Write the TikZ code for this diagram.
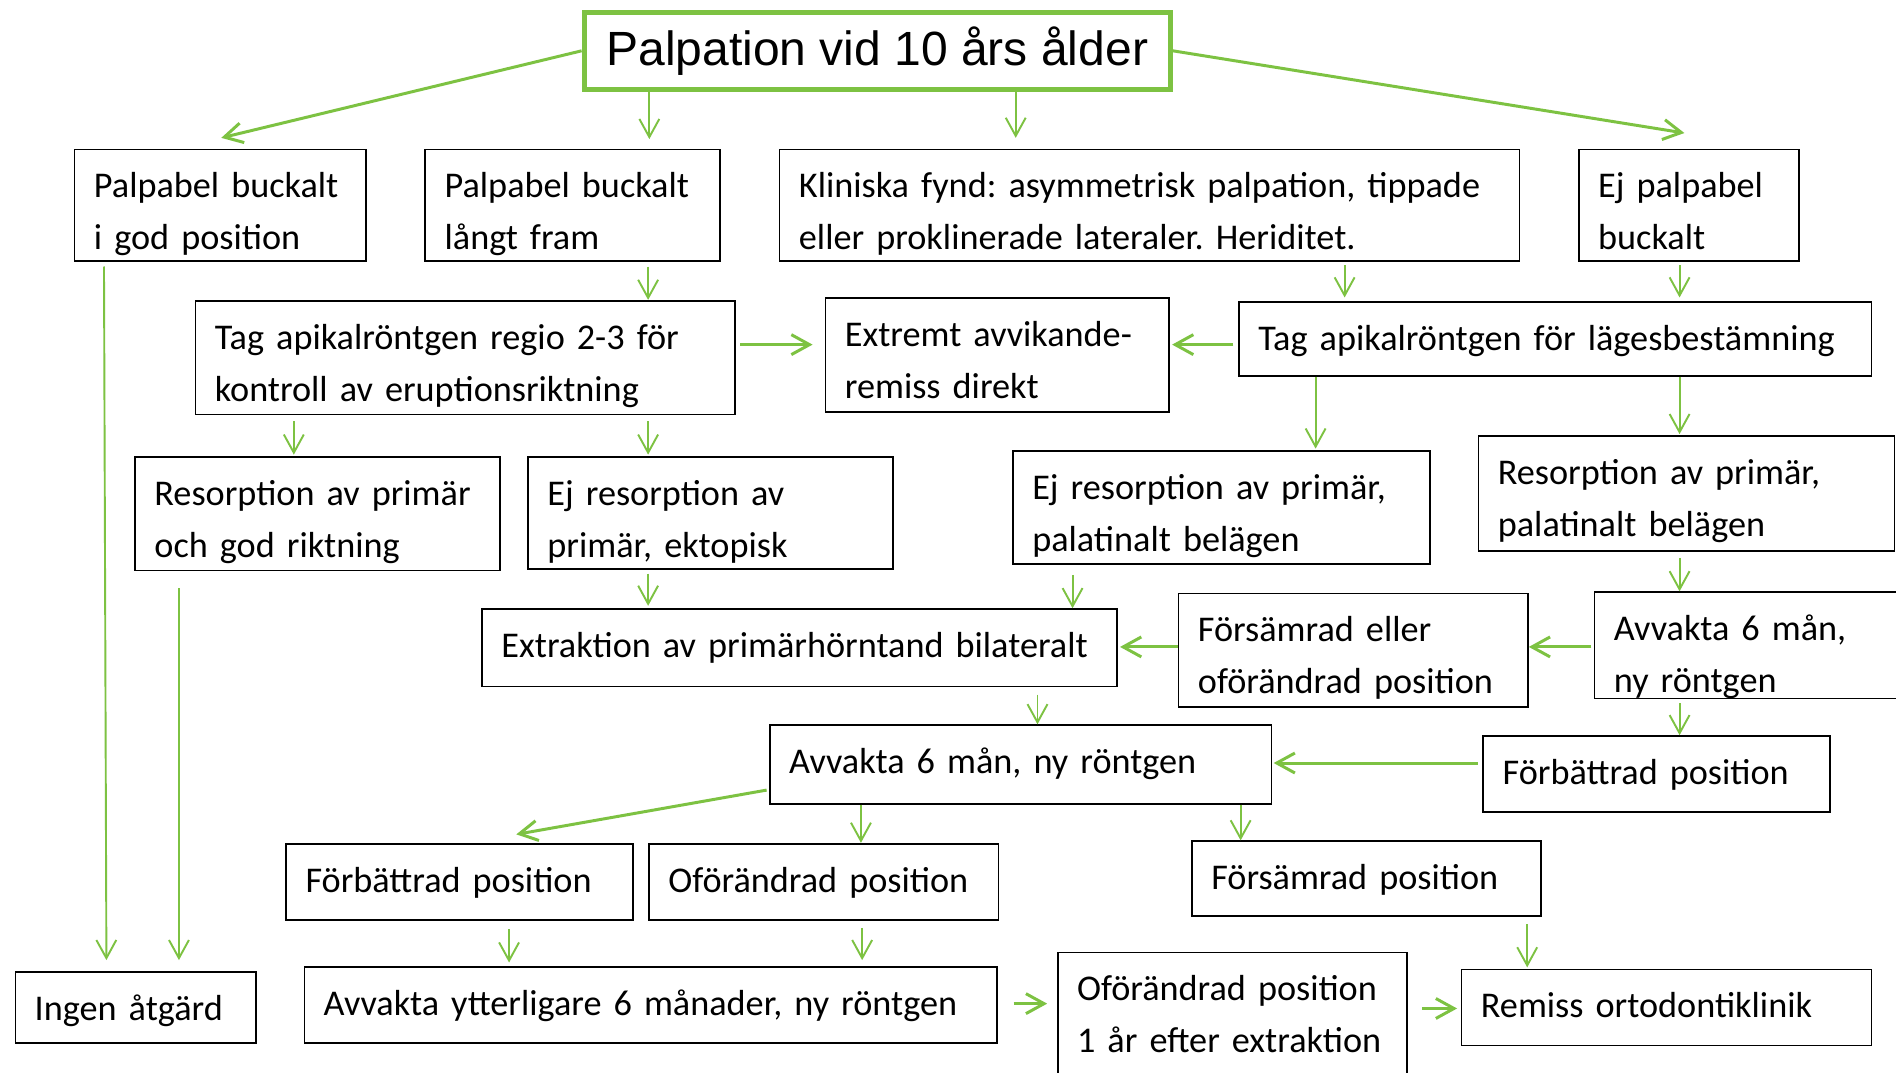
\documentclass[tikz,border=0pt]{standalone}
\usepackage{fontspec}
\setmainfont{Carlito}
\newfontfamily\titlefont{Liberation Sans}
\usetikzlibrary{arrows.meta,calc}
\definecolor{grn}{RGB}{125,194,66}
\frenchspacing
\begin{document}
\begin{tikzpicture}[x=0.02cm,y=-0.02cm,
  box/.style={draw=black, line width=0.8pt, inner xsep=0.32cm, inner ysep=0pt,
    text height=0.80cm, align=left, anchor=north west,
    font=\fontsize{17.05pt}{24.5pt}\selectfont\frenchspacing},
  titlebox/.style={draw=grn, line width=2.3pt, inner xsep=0pt, inner ysep=0pt,
    minimum width=9.70cm, text height=0.88cm, text depth=0.40cm, align=center,
    anchor=north west, font=\titlefont\fontsize{22.6pt}{27pt}\selectfont},
  arr/.style={draw=grn, line width=0.9pt, -{Straight Barb[length=0.3cm,width=0.33cm]}},
  arrb/.style={arr, line width=1.4pt}]
\fill[white] (0,0) rectangle (1568,887);
\useasboundingbox (0,0) rectangle (1568,887);

% nodes
\node[titlebox] (title) at (481,8) {Palpation vid 10 års ålder};

\node[box, text width=4.18cm, text depth=1.04cm] (b1) at (61,123) {\mbox{Palpabel buckalt}\\\mbox{i god position}};
\node[box, text width=4.24cm, text depth=1.04cm] (b2) at (351,123) {\mbox{Palpabel buckalt}\\\mbox{långt fram}};
\node[box, text width=11.60cm, text depth=1.04cm] (b3) at (644,123) {\mbox{Kliniska fynd: asymmetrisk palpation, tippade}\\\mbox{eller proklinerade lateraler. Heriditet.}};
\node[box, text width=3.00cm, text depth=1.04cm] (b4) at (1305,123) {\mbox{Ej palpabel}\\\mbox{buckalt}};

\node[box, text width=8.28cm, text depth=1.08cm] (c1) at (161,248) {\mbox{Tag apikalröntgen regio 2-3 för}\\\mbox{kontroll av eruptionsriktning}};
\node[box, text width=5.04cm, text depth=1.08cm] (c2) at (682,246) {\mbox{Extremt avvikande-}\\\mbox{remiss direkt}};
\node[box, text width=9.82cm, text depth=0.42cm] (c3) at (1024,249) {\mbox{Tag apikalröntgen för lägesbestämning}};

\node[box, text width=5.40cm, text depth=1.08cm] (d1) at (111,377) {\mbox{Resorption av primär}\\\mbox{och god riktning}};
\node[box, text width=5.40cm, text depth=1.06cm] (d2) at (436,377) {\mbox{Ej resorption av}\\\mbox{primär, ektopisk}};
\node[box, text width=6.26cm, text depth=1.08cm] (d3) at (837,372) {\mbox{Ej resorption av primär,}\\\mbox{palatinalt belägen}};
\node[box, text width=6.24cm, text depth=1.10cm] (d4) at (1222,360) {\mbox{Resorption av primär,}\\\mbox{palatinalt belägen}};

\node[box, text width=9.86cm, text depth=0.48cm] (e1) at (398,503) {\mbox{Extraktion av primärhörntand bilateralt}};
\node[box, text width=5.14cm, text depth=1.08cm] (e2) at (974,490) {\mbox{Försämrad eller}\\\mbox{oförändrad position}};
\node[box, text width=5.36cm, text depth=0.96cm] (e3) at (1318,489) {\mbox{Avvakta 6 mån,}\\\mbox{ny röntgen}};

\node[box, text width=7.66cm, text depth=0.50cm] (f1) at (636,599) {\mbox{Avvakta 6 mån, ny röntgen}};
\node[box, text width=5.10cm, text depth=0.46cm] (f2) at (1226,608) {\mbox{Förbättrad position}};

\node[box, text width=5.10cm, text depth=0.46cm] (g1) at (236,697) {\mbox{Förbättrad position}};
\node[box, text width=5.14cm, text depth=0.46cm] (g2) at (536,697) {\mbox{Oförändrad position}};
\node[box, text width=5.14cm, text depth=0.44cm] (g3) at (985,695) {\mbox{Försämrad position}};

\node[box, text width=3.34cm, text depth=0.38cm] (h0) at (12,803) {\mbox{Ingen åtgärd}};
\node[box, text width=10.82cm, text depth=0.46cm] (h1) at (251,799) {\mbox{Avvakta ytterligare 6 månader, ny röntgen}};
\node[box, text width=5.14cm, text depth=1.30cm] (h2) at (874,787) {\mbox{Oförändrad position}\\\mbox{1 år efter extraktion}};
\node[box, text width=6.14cm, text depth=0.46cm] (h3) at (1208,801) {\mbox{Remiss ortodontiklinik}};

% connectors
\draw[arrb] (title.west) -- ($(b1.north west)+(122,-9)$);
\draw[arr] ($(title.south west)+(56,0)$) coordinate (s) -- ($(s |- b2.north)+(0,-8)$);
\draw[arr] ($(title.south west)+(359,0)$) coordinate (s) -- ($(s |- b3.north)+(0,-9)$);
\draw[arrb] (title.east) -- ($(b4.north west)+(88,-13)$);

\draw[arr] ($(b1.south west)+(25,4)$) -- ($(h0.north west)+(76,-9)$);
\draw[arr] ($(d1.south west)+(37,14)$) coordinate (s) -- ($(s |- h0.north)+(0,-9)$);

\draw[arr] ($(b2.south west)+(185,4)$) coordinate (s) -- (s |- c1.north);
\draw[arr] ($(b3.south west)+(468,3)$) coordinate (s) -- ($(s |- c3.north)+(0,-3)$);
\draw[arr] ($(b4.south west)+(84,3)$) coordinate (s) -- ($(s |- c3.north)+(0,-3)$);

\draw[arrb] ($(c1.north east)+(4,37)$) coordinate (s) -- ($(s -| c2.west)+(-10,0)$);
\draw[arrb] ($(c3.north west)+(-4,36)$) coordinate (s) -- ($(s -| c2.east)+(2,0)$);

\draw[arr] ($(c1.south west)+(82,5)$) coordinate (s) -- ($(s |- d1.north)+(0,-1)$);
\draw[arr] ($(c1.south west)+(375,5)$) coordinate (s) -- ($(s |- d2.north)+(0,-1)$);
\draw[arr] ($(c3.south west)+(64,0)$) coordinate (s) -- ($(s |- d3.north)+(0,-1)$);
\draw[arr] ($(c3.south west)+(365,0)$) coordinate (s) -- ($(s |- d4.north)+(0,-1)$);

\draw[arr] ($(d2.south west)+(100,3)$) coordinate (s) -- ($(s |- e1.north)+(0,-2)$);
\draw[arr] ($(d3.south west)+(50,8)$) coordinate (s) -- (s |- e1.north);
\draw[arr] ($(d4.south west)+(167,5)$) coordinate (s) -- (s |- e3.north);

\draw[arrb] ($(e2.north west)+(0,45)$) coordinate (s) -- ($(s -| e1.east)+(2,0)$);
\draw[arrb] ($(e3.north west)+(-2,46)$) coordinate (s) -- (s -| e2.east);

\draw[arr] ($(e1.south west)+(460,6)$) coordinate (s) -- (s |- f1.north);
\draw[arr] ($(e3.south west)+(71,3)$) coordinate (s) -- (s |- f2.north);
\draw[arrb] ($(f2.north west)+(-4,23)$) coordinate (s) -- ($(s -| f1.east)+(1,0)$);

\draw[arrb] ($(f1.south west)+(-2,-12)$) -- ($(g1.north west)+(191,-7)$);
\draw[arr] ($(f1.south west)+(76,0)$) coordinate (s) -- (s |- g2.north);
\draw[arr] ($(f1.south west)+(390,0)$) coordinate (s) -- (s |- g3.north);

\draw[arr] ($(g1.south west)+(185,7)$) coordinate (s) -- ($(s |- h1.north)+(0,-3)$);
\draw[arr] ($(g2.south west)+(177,6)$) coordinate (s) -- ($(s |- h1.north)+(0,-5)$);
\draw[arr] ($(g3.south west)+(278,6)$) coordinate (s) -- ($(s |- h3.north)+(0,-1)$);

\draw[arrb] ($(h1.north east)+(13,31)$) coordinate (s) -- ($(s -| h2.west)+(-8,0)$);
\draw[arrb] ($(h2.north east)+(12,47)$) coordinate (s) -- ($(s -| h3.west)+(-3,0)$);
\end{tikzpicture}
\end{document}
